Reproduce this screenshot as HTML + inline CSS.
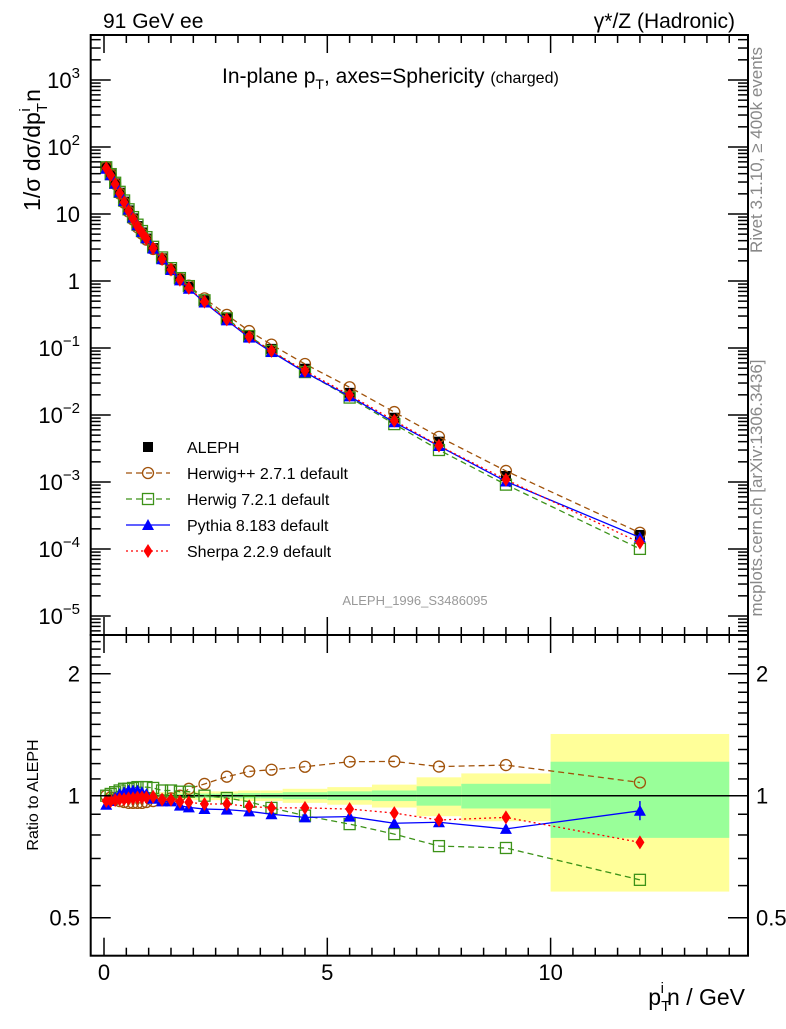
<!DOCTYPE html>
<html><head><meta charset="utf-8"><style>
body{margin:0;background:#fff;}
svg text{font-family:"Liberation Sans",sans-serif;}
</style></head><body>
<svg id="c" width="786" height="1024" viewBox="0 0 786 1024" xmlns="http://www.w3.org/2000/svg">
<g id="bands"></g>
<g id="main"></g>
<g id="ratio"></g>
<g id="axes"></g>
</svg>
<script>
const xs = [0.05,0.15,0.25,0.35,0.45,0.55,0.65,0.75,0.85,0.95,1.1,1.3,1.5,1.7,1.9,2.25,2.75,3.25,3.75,4.5,5.5,6.5,7.5,9,12];
const aleph = [49.8,39,28.7,20.8,15.3,11.3,8.6,6.6,5.3,4.3,3.1,2.18,1.51,1.08,0.82,0.515,0.28,0.156,0.097,0.049,0.0214,0.0091,0.004,0.00123,0.000162];
const herwigpp = [1.0,0.99,0.98,0.97,0.965,0.96,0.96,0.96,0.96,0.965,0.97,0.975,0.985,1.0,1.04,1.069,1.114,1.148,1.159,1.179,1.213,1.215,1.18,1.19,1.078];
const herwig7 = [1.0,1.01,1.02,1.03,1.04,1.04,1.045,1.05,1.05,1.05,1.045,1.03,1.03,1.023,1.023,1.0,0.987,0.966,0.933,0.893,0.851,0.804,0.751,0.743,0.62];
const pythia = [0.95,0.97,0.99,1.01,1.02,1.03,1.03,1.03,1.02,1.01,0.983,0.968,0.968,0.945,0.936,0.927,0.924,0.915,0.9,0.884,0.888,0.855,0.86,0.828,0.918];
const sherpa = [0.97,0.97,0.975,0.98,0.98,0.985,0.985,0.99,0.99,0.99,0.994,0.978,0.978,0.966,0.963,0.954,0.954,0.941,0.933,0.933,0.927,0.906,0.871,0.884,0.767];
const binEdges = [0,0.1,0.2,0.3,0.4,0.5,0.6,0.7,0.8,0.9,1.0,1.2,1.4,1.6,1.8,2.0,2.5,3,3.5,4,5,6,7,8,10,14];
const statErr = [0.01,0.01,0.01,0.01,0.01,0.01,0.01,0.01,0.01,0.01,0.01,0.01,0.01,0.01,0.01,0.012,0.012,0.015,0.015,0.02,0.025,0.03,0.055,0.07,0.213];
const totErr = [0.02,0.02,0.02,0.02,0.02,0.02,0.02,0.02,0.02,0.02,0.02,0.02,0.02,0.02,0.02,0.025,0.025,0.03,0.03,0.04,0.05,0.065,0.11,0.135,0.42];
const xTicks = [0,5,10];
const yTicksMain = [3,2,1,0,-1,-2,-3,-4,-5];
const yTicksRatio = [0.5,1,2];

const NS='http://www.w3.org/2000/svg';
const L=90.7,R=748,T=35,MB=635,RB=955.7;
const X=v=>104+(v)*44.66;
const YM=v=>147-(Math.log10(v)-2)*67;
const YR=v=>795.7-122*Math.log2(v);
function mk(p,tag,at){const e=document.createElementNS(NS,tag);for(const k in at)e.setAttribute(k,at[k]);p.appendChild(e);return e;}
const gB=document.getElementById('bands'),gM=document.getElementById('main'),gR=document.getElementById('ratio'),gA=document.getElementById('axes');

for(let i=0;i<statErr.length;i++){
 const x0=X(binEdges[i]),x1=X(binEdges[i+1]);
 let r=mk(gB,'rect',{x:x0,y:YR(1+totErr[i]),width:x1-x0,height:YR(1-totErr[i])-YR(1+totErr[i]),fill:'#ffff99'});
 
 
 let g=mk(gB,'rect',{x:x0,y:YR(1+statErr[i]),width:x1-x0,height:YR(1-statErr[i])-YR(1+statErr[i]),fill:'#99ff99'});
 
 
}
let ref=mk(gR,'line',{x1:L,x2:R,y1:YR(1),y2:YR(1),stroke:'#000','stroke-width':1.5});



function marker(g,type,x,y,col,name){
 let e;
 if(type==='circ') e=mk(g,'circle',{cx:x,cy:y,r:5.5,fill:'none',stroke:col,'stroke-width':1.3});
 else if(type==='sq') e=mk(g,'rect',{x:x-5.5,y:y-5.5,width:11,height:11,fill:'none',stroke:col,'stroke-width':1.3});
 else if(type==='tri') e=mk(g,'polygon',{points:`${x},${y-6} ${x-6},${y+5} ${x+6},${y+5}`,fill:col});
 else if(type==='dia') e=mk(g,'polygon',{points:`${x},${y-7} ${x-4.5},${y} ${x},${y+7} ${x+4.5},${y}`,fill:col});
 else if(type==='box') e=mk(g,'rect',{x:x-5,y:y-5,width:10,height:10,fill:col});
 
 
}
const series=[
 {r:herwigpp,col:'#a0520a',dash:'6,4',type:'circ',n:'herwigpp'},
 {r:herwig7,col:'#3c9218',dash:'6,4',type:'sq',n:'herwig7'},
 {r:pythia,col:'#0000ff',dash:'',type:'tri',n:'pythia'},
 {r:sherpa,col:'#ff0000',dash:'2,3',type:'dia',n:'sherpa'}];
aleph.forEach((v,i)=>marker(gM,'box',X(xs[i]),YM(v),'#000','aleph-point'));
series.forEach(s=>{
 const pm=xs.map((x,i)=>X(x)+','+YM(aleph[i]*s.r[i])).join(' ');
 let l=mk(gM,'polyline',{points:pm,fill:'none',stroke:s.col,'stroke-width':1.3,'stroke-dasharray':s.dash});
 
 
 xs.forEach((x,i)=>marker(gM,s.type,X(x),YM(aleph[i]*s.r[i]),s.col,s.n+'-point'));
 const pr=xs.map((x,i)=>X(x)+','+YR(s.r[i])).join(' ');
 let l2=mk(gR,'polyline',{points:pr,fill:'none',stroke:s.col,'stroke-width':1.3,'stroke-dasharray':s.dash});
 
 
 xs.forEach((x,i)=>marker(gR,s.type,X(x),YR(s.r[i]),s.col,s.n+'-ratio-point'));
});
let eb=mk(gR,'line',{x1:X(12),x2:X(12),y1:YR(0.97),y2:YR(0.87),stroke:'#0000ff','stroke-width':1.5});



[[T,MB],[MB,RB]].forEach(([a,b])=>{
 let f=mk(gA,'rect',{x:L,y:a,width:R-L,height:b-a,fill:'none',stroke:'#000','stroke-width':2});
 
 
});
for(let v=0;v<=14;v+=0.5){
 const x=X(v),maj=(v%5===0),len=maj?18:8;
 [[MB,-1],[RB,-1],[T,1],[MB,1]].forEach(([y,d])=>mk(gA,'line',{x1:x,x2:x,y1:y,y2:y+d*len,stroke:'#000','stroke-width':1.5}));
}
xTicks.forEach(v=>{let t=mk(gA,'text',{x:X(v),y:980,'font-size':22,'text-anchor':'middle'});t.textContent=v;
 });
for(let d=-6;d<=3;d++){for(let m=1;m<=9;m++){const v=m*Math.pow(10,d);const y=YM(v);if(y<T||y>MB)continue;const len=m===1?20:10;
 mk(gA,'line',{x1:L,x2:L+len,y1:y,y2:y,stroke:'#000','stroke-width':1.5});mk(gA,'line',{x1:R,x2:R-len,y1:y,y2:y,stroke:'#000','stroke-width':1.5});}}
yTicksMain.forEach(e=>{const y=YM(Math.pow(10,e))+8;let t=mk(gA,'text',{x:80,y:y,'font-size':22,'text-anchor':'end'});
 if(e===0)t.textContent='1';else if(e===1)t.textContent='10';
 else{t.textContent='10';const s=mk(t,'tspan',{dy:-10,'font-size':15});s.textContent=String(e).replace('-','\u2212');}
 });
[0.5,0.6,0.7,0.8,0.9,1,1.1,1.2,1.3,1.4,1.5,1.6,1.7,1.8,1.9,2,2.1,2.2,2.3,2.4,2.5].forEach(v=>{const y=YR(v);if(y<MB||y>RB)return;const maj=yTicksRatio.includes(v);const len=maj?20:10;
 mk(gA,'line',{x1:L,x2:L+len,y1:y,y2:y,stroke:'#000','stroke-width':1.5});mk(gA,'line',{x1:R,x2:R-len,y1:y,y2:y,stroke:'#000','stroke-width':1.5});});
yTicksRatio.forEach(v=>{const y=YR(v)+8;
 let t=mk(gA,'text',{x:80,y:y,'font-size':22,'text-anchor':'end'});t.textContent=v;
 let t2=mk(gA,'text',{x:756,y:y,'font-size':22});t2.textContent=v;});
const legN=['ALEPH','Herwig++ 2.7.1 default','Herwig 7.2.1 default','Pythia 8.183 default','Sherpa 2.2.9 default'];
const legT=['box','circ','sq','tri','dia'],legC=['#000','#a0520a','#3c9218','#0000ff','#ff0000'],legD=['','6,4','6,4','','2,3'];
legN.forEach((n,i)=>{const y=447+i*26;
 if(i>0){let l=mk(gA,'line',{x1:126,x2:170,y1:y,y2:y,stroke:legC[i],'stroke-width':1.3,'stroke-dasharray':legD[i]});}
 marker(gA,legT[i],148,y,legC[i],'legend-marker');
 let t=mk(gA,'text',{x:187,y:y+6,'font-size':16});t.textContent=n;});
</script>
<svg style="position:absolute;left:0;top:0" width="786" height="1024" xmlns="http://www.w3.org/2000/svg">
<text x="103" y="28" font-size="21">91 GeV ee</text>
<text x="735" y="28" font-size="21" text-anchor="end">γ*/Z (Hadronic)</text>
<text x="222" y="83" font-size="21">In-plane p<tspan dy="6" font-size="14">T</tspan><tspan dy="-6">, axes=Sphericity </tspan><tspan font-size="16">(charged)</tspan></text>
<text x="415" y="605" font-size="13" fill="#999" text-anchor="middle">ALEPH_1996_S3486095</text>
<text transform="translate(762,150) rotate(-90)" font-size="17" fill="#888" text-anchor="middle">Rivet 3.1.10, ≥ 400k events</text>
<text transform="translate(762,488) rotate(-90)" font-size="17" fill="#888" text-anchor="middle">mcplots.cern.ch [arXiv:1306.3436]</text>
<text transform="translate(40,150) rotate(-90)" font-size="23" text-anchor="middle">1/σ dσ/dp<tspan dy="7" font-size="15">T</tspan><tspan dy="-17" dx="-8" font-size="15">i</tspan><tspan dy="10"> n</tspan></text>
<text transform="translate(38,795) rotate(-90)" font-size="16" text-anchor="middle">Ratio to ALEPH</text>
<text x="745" y="1005" font-size="23" text-anchor="end">p<tspan dy="6" font-size="15">T</tspan><tspan dy="-18" dx="-9" font-size="15">i</tspan><tspan dy="12" dx="3">n / GeV</tspan></text>
</svg>
</body></html>
